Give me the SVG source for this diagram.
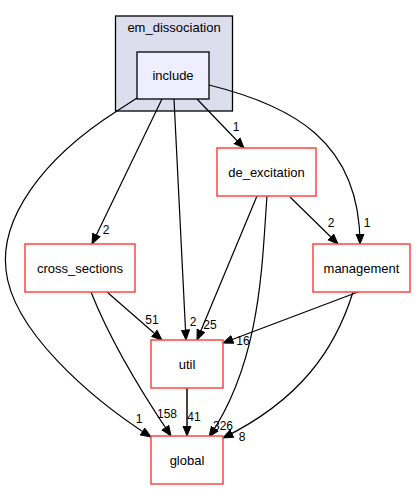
<svg xmlns="http://www.w3.org/2000/svg" width="416" height="489" viewBox="0 0 416 489">
<style>
.node{fill:#ffffff;stroke:#ff4444;stroke-width:1.5}
.nt{font-family:"Liberation Sans",Arial,sans-serif;font-size:13px;text-anchor:middle;fill:#000}
.el{font-family:"Liberation Sans",Arial,sans-serif;font-size:12px;text-anchor:middle;fill:#000}
.e{fill:none;stroke:#000;stroke-width:1.2;marker-end:url(#ah)}
.e2{fill:none;stroke:#444;stroke-width:2;marker-end:url(#ah)}
</style>
<defs>
<marker id="ah" markerUnits="userSpaceOnUse" markerWidth="12" markerHeight="10" viewBox="0 -5 11 10" refX="10" refY="0" orient="auto">
<path d="M0,-4 L10,0 L0,4 z" fill="#000" stroke="#000" stroke-width="1"/>
</marker>
</defs>
<rect width="416" height="489" fill="#ffffff"/>
<g id="cluster_em_dissociation">
<rect x="115.5" y="16" width="117" height="95" fill="#ddddee" stroke="#000" stroke-width="1.3"/>
<text class="nt" x="174" y="31.5">em_dissociation</text>
</g>
<g id="edges">
<path class="e" d="M137,98 L117,111 C40,160 0,220 6,270 C12,330 90,398 151,437"/>
<text class="el" x="139" y="423">1</text>
<path class="e" d="M162,99 L92,244"/>
<text class="el" x="106" y="234">2</text>
<path class="e" d="M174,99 L186,340"/>
<text class="el" x="193" y="326">2</text>
<path class="e" d="M197,99 L244,148"/>
<text class="el" x="236" y="131">1</text>
<path class="e" d="M209,85 C290,105 360,140 360,244"/>
<text class="el" x="367" y="227">1</text>
<path class="e" d="M257,196 L197,340"/>
<text class="el" x="210" y="329">25</text>
<path class="e" d="M267,196 C262,260 262,360 209,437"/>
<text class="el" x="223" y="430">326</text>
<path class="e" d="M290,197 L338,244"/>
<text class="el" x="331" y="227">2</text>
<path class="e" d="M107,292 L162,340"/>
<text class="el" x="152" y="324">51</text>
<path class="e" d="M91,292 C110,340 140,390 171,436"/>
<text class="el" x="167" y="418">158</text>
<path class="e2" d="M187,388 L187,436"/>
<text class="el" x="194" y="421">41</text>
<path class="e" d="M358,292 L223,343"/>
<text class="el" x="243" y="345">16</text>
<path class="e" d="M353,292 C335,350 300,400 223,438"/>
<text class="el" x="242" y="441">8</text>
</g>
<g id="include">
<rect x="137" y="52" width="72" height="47" fill="#eeeeff" stroke="#000" stroke-width="1.3"/>
<text class="nt" x="173" y="80">include</text>
</g>
<g id="de_excitation">
<rect class="node" x="217" y="148" width="99" height="48"/>
<text class="nt" x="266.5" y="176.5">de_excitation</text>
</g>
<g id="cross_sections">
<rect class="node" x="25" y="244" width="110" height="48"/>
<text class="nt" x="80" y="272.5">cross_sections</text>
</g>
<g id="management">
<rect class="node" x="313" y="244" width="97" height="48"/>
<text class="nt" x="361.5" y="272.5">management</text>
</g>
<g id="util">
<rect class="node" x="151" y="340" width="72" height="48"/>
<text class="nt" x="187" y="368.5">util</text>
</g>
<g id="global">
<rect class="node" x="151" y="436" width="72" height="48"/>
<text class="nt" x="187" y="464.5">global</text>
</g>
</svg>
